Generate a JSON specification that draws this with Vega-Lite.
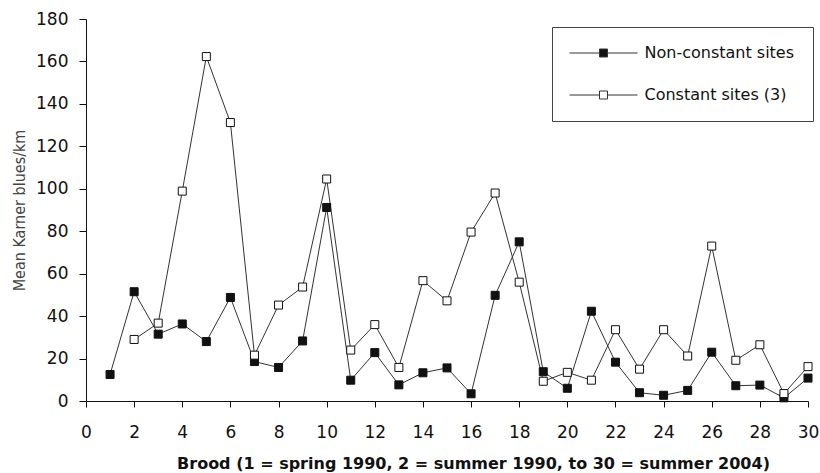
{
  "$schema": "https://vega.github.io/schema/vega-lite/v6.json",
  "width": 722,
  "height": 382,
  "autosize": "none",
  "padding": {"left": 86, "top": 19, "right": 12, "bottom": 72},
  "background": "white",
  "config": {
    "view": {"stroke": null},
    "axis": {
      "domainColor": "#111",
      "tickColor": "#111",
      "labelColor": "#111",
      "labelFont": "DejaVu Sans",
      "labelFontSize": 17,
      "grid": false,
      "domainWidth": 1,
      "tickWidth": 1
    }
  },
  "data": {
    "values": [
      {"brood": 1, "series": "Non-constant sites", "value": 12.5},
      {"brood": 2, "series": "Non-constant sites", "value": 51.5},
      {"brood": 3, "series": "Non-constant sites", "value": 31.5},
      {"brood": 4, "series": "Non-constant sites", "value": 36.3},
      {"brood": 5, "series": "Non-constant sites", "value": 28},
      {"brood": 6, "series": "Non-constant sites", "value": 48.8},
      {"brood": 7, "series": "Non-constant sites", "value": 18.6},
      {"brood": 8, "series": "Non-constant sites", "value": 15.8},
      {"brood": 9, "series": "Non-constant sites", "value": 28.3},
      {"brood": 10, "series": "Non-constant sites", "value": 91.2},
      {"brood": 11, "series": "Non-constant sites", "value": 9.8},
      {"brood": 12, "series": "Non-constant sites", "value": 22.8},
      {"brood": 13, "series": "Non-constant sites", "value": 7.6},
      {"brood": 14, "series": "Non-constant sites", "value": 13.3},
      {"brood": 15, "series": "Non-constant sites", "value": 15.6},
      {"brood": 16, "series": "Non-constant sites", "value": 3.4},
      {"brood": 17, "series": "Non-constant sites", "value": 49.8},
      {"brood": 18, "series": "Non-constant sites", "value": 75},
      {"brood": 19, "series": "Non-constant sites", "value": 13.8},
      {"brood": 20, "series": "Non-constant sites", "value": 6},
      {"brood": 21, "series": "Non-constant sites", "value": 42.3},
      {"brood": 22, "series": "Non-constant sites", "value": 18.3},
      {"brood": 23, "series": "Non-constant sites", "value": 3.9},
      {"brood": 24, "series": "Non-constant sites", "value": 2.7},
      {"brood": 25, "series": "Non-constant sites", "value": 5},
      {"brood": 26, "series": "Non-constant sites", "value": 23},
      {"brood": 27, "series": "Non-constant sites", "value": 7.2},
      {"brood": 28, "series": "Non-constant sites", "value": 7.5},
      {"brood": 29, "series": "Non-constant sites", "value": 1.5},
      {"brood": 30, "series": "Non-constant sites", "value": 10.8},
      {"brood": 2, "series": "Constant sites (3)", "value": 29},
      {"brood": 3, "series": "Constant sites (3)", "value": 36.7},
      {"brood": 4, "series": "Constant sites (3)", "value": 98.9},
      {"brood": 5, "series": "Constant sites (3)", "value": 162.3},
      {"brood": 6, "series": "Constant sites (3)", "value": 131.2},
      {"brood": 7, "series": "Constant sites (3)", "value": 21.6},
      {"brood": 8, "series": "Constant sites (3)", "value": 45.2},
      {"brood": 9, "series": "Constant sites (3)", "value": 53.7},
      {"brood": 10, "series": "Constant sites (3)", "value": 104.6},
      {"brood": 11, "series": "Constant sites (3)", "value": 24},
      {"brood": 12, "series": "Constant sites (3)", "value": 36},
      {"brood": 13, "series": "Constant sites (3)", "value": 15.8},
      {"brood": 14, "series": "Constant sites (3)", "value": 56.7},
      {"brood": 15, "series": "Constant sites (3)", "value": 47.2},
      {"brood": 16, "series": "Constant sites (3)", "value": 79.6},
      {"brood": 17, "series": "Constant sites (3)", "value": 98},
      {"brood": 18, "series": "Constant sites (3)", "value": 56},
      {"brood": 19, "series": "Constant sites (3)", "value": 9.3},
      {"brood": 20, "series": "Constant sites (3)", "value": 13.5},
      {"brood": 21, "series": "Constant sites (3)", "value": 9.8},
      {"brood": 22, "series": "Constant sites (3)", "value": 33.6},
      {"brood": 23, "series": "Constant sites (3)", "value": 15},
      {"brood": 24, "series": "Constant sites (3)", "value": 33.6},
      {"brood": 25, "series": "Constant sites (3)", "value": 21.2},
      {"brood": 26, "series": "Constant sites (3)", "value": 73},
      {"brood": 27, "series": "Constant sites (3)", "value": 19.2},
      {"brood": 28, "series": "Constant sites (3)", "value": 26.5},
      {"brood": 29, "series": "Constant sites (3)", "value": 3.5},
      {"brood": 30, "series": "Constant sites (3)", "value": 16.2}
    ]
  },
  "encoding": {
    "x": {
      "field": "brood",
      "type": "quantitative",
      "scale": {"domain": [0, 30], "nice": false, "zero": false},
      "axis": {
        "values": [0, 2, 4, 6, 8, 10, 12, 14, 16, 18, 20, 22, 24, 26, 28, 30],
        "tickSize": 6,
        "labelPadding": 17,
        "labelFlush": false,
        "title": "Brood (1 = spring 1990, 2 = summer 1990, to 30 = summer 2004)",
        "titleFont": "DejaVu Sans",
        "titleFontSize": 16,
        "titleFontWeight": "bold",
        "titleColor": "#111",
        "titleX": 387,
        "titleY": 62,
        "titleAnchor": null,
        "titleAlign": "center",
        "titleBaseline": "middle"
      }
    },
    "y": {
      "field": "value",
      "type": "quantitative",
      "scale": {"domain": [0, 180], "nice": false},
      "axis": {
        "values": [0, 20, 40, 60, 80, 100, 120, 140, 160, 180],
        "tickSize": 7,
        "labelPadding": 11,
        "title": "Mean Karner blues/km",
        "titleFont": "DejaVu Sans Condensed",
        "titleFontSize": 16,
        "titleFontWeight": "normal",
        "titleColor": "#444",
        "titleAngle": -90,
        "titleX": -67,
        "titleY": 191,
        "titleAlign": "center",
        "titleBaseline": "middle"
      }
    }
  },
  "layer": [
    {
      "mark": {"type": "line", "color": "#333", "strokeWidth": 1},
      "encoding": {"detail": {"field": "series", "type": "nominal"}}
    },
    {
      "mark": {"type": "point", "shape": "square", "size": 64, "filled": true, "stroke": "#111", "strokeWidth": 1, "opacity": 1},
      "encoding": {
        "fill": {
          "field": "series",
          "type": "nominal",
          "scale": {"domain": ["Non-constant sites", "Constant sites (3)"], "range": ["#111", "white"]},
          "legend": {
            "title": null,
            "orient": "none",
            "legendX": 466,
            "legendY": 8,
            "padding": 18,
            "strokeColor": "#444",
            "fillColor": "white",
            "symbolType": "M-8.5,0H-1M1,0H8.5M-1,-1H1V1H-1Z",
            "symbolSize": 64,
            "symbolStrokeColor": "#333",
            "symbolStrokeWidth": 1,
            "symbolOffset": 25.5,
            "labelOffset": 33,
            "labelFont": "DejaVu Sans",
            "labelFontSize": 16,
            "labelColor": "#111",
            "rowPadding": 26,
            "labelLimit": 300
          }
        }
      }
    }
  ]
}
